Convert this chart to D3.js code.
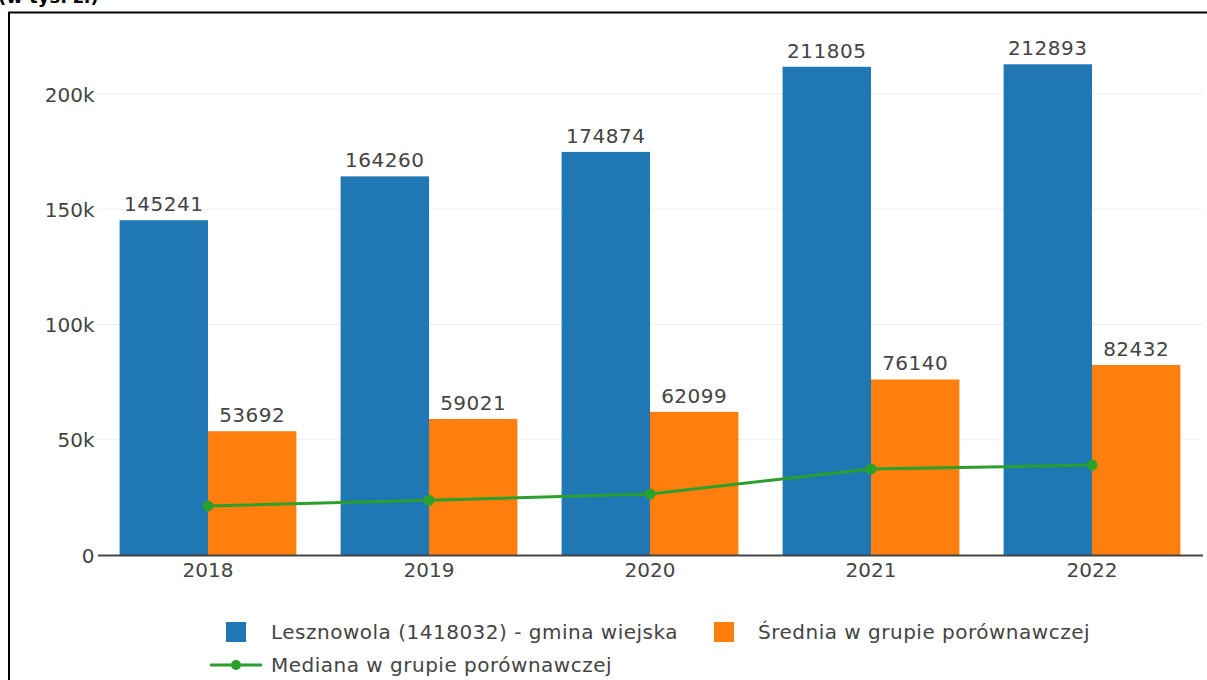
<!DOCTYPE html>
<html>
<head>
<meta charset="utf-8">
<script src="https://cdn.jsdelivr.net/npm/d3@7"></script>
<style>
  html, body { margin: 0; padding: 0; background: #fff; }
  svg { display: block; }
</style>
</head>
<body>
<svg id="chart" width="1207" height="680"></svg>
<script>
// Years on the x axis
const years = ["2018", "2019", "2020", "2021", "2022"];
// Municipality values (blue bars)
const gminaValues = [145241, 164260, 174874, 211805, 212893];
// Comparison group average (orange bars)
const sredniaValues = [53692, 59021, 62099, 76140, 82432];
// Comparison group median (green line)
const medianaValues = [21300, 23700, 26500, 37300, 39000];
// Y axis ticks
const yTicks = [0, 50000, 100000, 150000, 200000];
const yTickLabels = ["0", "50k", "100k", "150k", "200k"];
// Legend entries
const seriesNames = [
  "Lesznowola (1418032) - gmina wiejska",
  "Średnia w grupie porównawczej",
  "Mediana w grupie porównawczej"
];

const colors = { gmina: "#1f77b4", srednia: "#ff7f0e", mediana: "#2ca02c" };
const font = "'DejaVu Sans', Verdana, sans-serif";
const textColor = "#444";

const svg = d3.select("#chart");

// Heading line of the surrounding document, running off the top edge
svg.append("text")
  .attr("x", -2).attr("y", 3)
  .attr("font-family", font).attr("font-weight", "bold").attr("font-size", 18)
  .attr("fill", "#000")
  .text("(w tys. zł)");

// Frame around the chart
svg.append("rect")
  .attr("x", 9).attr("y", 12.5).attr("width", 1300).attr("height", 700)
  .attr("fill", "none").attr("stroke", "#000").attr("stroke-width", 2);

const plot = { left: 97.5, right: 1202.5, top: 40, bottom: 555 };

const x = d3.scaleBand().domain(years).range([plot.left, plot.right]).paddingInner(0.2).paddingOuter(0.1);
const xSub = d3.scaleBand().domain(["gmina", "srednia"]).range([0, x.bandwidth()]);
const y = d3.scaleLinear().domain([0, 200000]).range([plot.bottom, plot.bottom - 461]);

// Horizontal grid
svg.append("g").selectAll("line").data(yTicks.slice(1)).join("line")
  .attr("x1", plot.left).attr("x2", plot.right)
  .attr("y1", d => y(d)).attr("y2", d => y(d))
  .attr("stroke", "#eee").attr("stroke-width", 1);

// Y axis labels
const yAxis = d3.axisLeft(y).tickValues(yTicks).tickFormat((d, i) => yTickLabels[i]).tickSize(0).tickPadding(3);
const yg = svg.append("g").attr("transform", `translate(${plot.left},0)`).call(yAxis);
yg.select(".domain").remove();
yg.selectAll("text").attr("font-family", font).attr("font-size", 20).attr("fill", textColor).attr("dy", "0.35em");

// Bars
const groups = svg.append("g").selectAll("g").data(years).join("g")
  .attr("transform", d => `translate(${x(d)},0)`);

const barData = (i) => [
  { key: "gmina", value: gminaValues[i] },
  { key: "srednia", value: sredniaValues[i] }
];

groups.selectAll("rect").data((d, i) => barData(i)).join("rect")
  .attr("x", d => xSub(d.key))
  .attr("width", xSub.bandwidth())
  .attr("y", d => y(d.value))
  .attr("height", d => y(0) - y(d.value))
  .attr("fill", d => colors[d.key]);

groups.selectAll("text").data((d, i) => barData(i)).join("text")
  .attr("x", d => xSub(d.key) + xSub.bandwidth() / 2)
  .attr("y", d => y(d.value) - 9)
  .attr("text-anchor", "middle")
  .attr("font-family", font).attr("font-size", 20).attr("letter-spacing", 0.5).attr("fill", textColor)
  .text(d => d.value);

// X axis
const xAxis = d3.axisBottom(x).tickSize(0).tickPadding(8);
const xg = svg.append("g").attr("transform", `translate(0,${plot.bottom})`).call(xAxis);
xg.select(".domain").attr("stroke", textColor).attr("stroke-width", 2);
xg.selectAll("text").attr("font-family", font).attr("font-size", 20).attr("fill", textColor);

// Median line with markers
const lineX = d => x(d) + x.bandwidth() / 2;
const medianPts = years.map((yr, i) => [lineX(yr), y(medianaValues[i])]);
svg.append("path")
  .attr("d", d3.line()(medianPts))
  .attr("fill", "none").attr("stroke", colors.mediana).attr("stroke-width", 3);
svg.append("g").selectAll("circle").data(medianPts).join("circle")
  .attr("cx", d => d[0]).attr("cy", d => d[1]).attr("r", 5.5)
  .attr("fill", colors.mediana);

// Legend
const legend = svg.append("g").attr("font-family", font).attr("font-size", 20)
  .attr("letter-spacing", 0.5).attr("fill", textColor);
const row1 = 632, row2 = 665;
legend.append("rect").attr("x", 226).attr("y", row1 - 10).attr("width", 20).attr("height", 20).attr("fill", colors.gmina);
legend.append("text").attr("x", 271).attr("y", row1).attr("dy", "0.35em").text(seriesNames[0]);
legend.append("rect").attr("x", 714).attr("y", row1 - 10).attr("width", 20).attr("height", 20).attr("fill", colors.srednia);
legend.append("text").attr("x", 758).attr("y", row1).attr("dy", "0.35em").text(seriesNames[1]);
legend.append("line").attr("x1", 210).attr("x2", 262).attr("y1", row2).attr("y2", row2)
  .attr("stroke", colors.mediana).attr("stroke-width", 3);
legend.append("circle").attr("cx", 236).attr("cy", row2).attr("r", 5).attr("fill", colors.mediana);
legend.append("text").attr("x", 271).attr("y", row2).attr("dy", "0.35em").text(seriesNames[2]);
</script>
</body>
</html>
